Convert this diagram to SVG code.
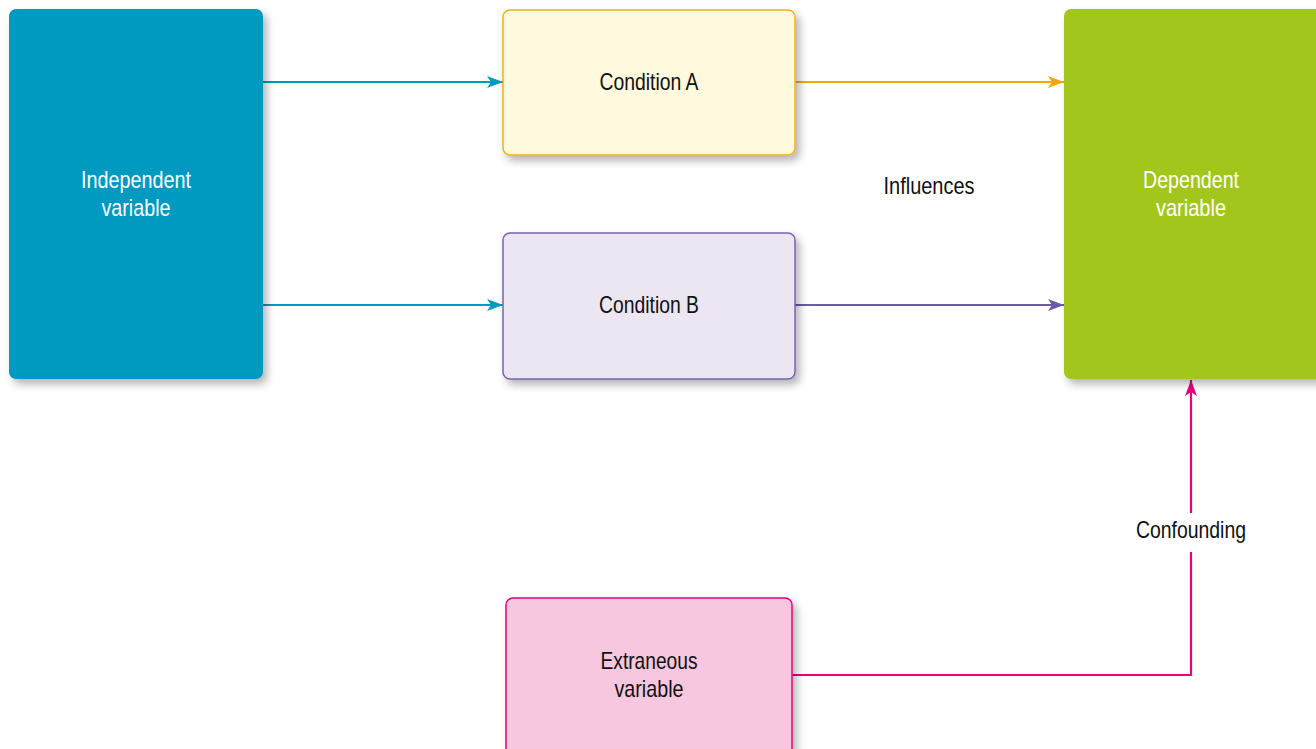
<svg xmlns="http://www.w3.org/2000/svg" width="1316" height="749" viewBox="0 0 1316 749">
  <style>
    text { font-family: "Liberation Sans", Arial, sans-serif; font-size: 24px; text-anchor: middle; dominant-baseline: central; }
    .light { fill: #ffffff; }
    .dark { fill: #111111; }
    .conn { fill: none; stroke-width: 2.2; }
  </style>
  <defs>
    <filter id="shadow" x="-10%" y="-10%" width="130%" height="130%">
      <feGaussianBlur in="SourceAlpha" stdDeviation="4"/>
      <feOffset dx="4" dy="5" result="blur"/>
      <feComponentTransfer><feFuncA type="linear" slope="0.3"/></feComponentTransfer>
      <feMerge><feMergeNode/><feMergeNode in="SourceGraphic"/></feMerge>
    </filter>
    <marker id="arrBlue" markerWidth="16" markerHeight="12" refX="16" refY="6" orient="auto" markerUnits="userSpaceOnUse">
      <path d="M0,0 L16,6 L0,12 L4,6 Z" fill="#0099BF"/>
    </marker>
    <marker id="arrOrange" markerWidth="16" markerHeight="12" refX="16" refY="6" orient="auto" markerUnits="userSpaceOnUse">
      <path d="M0,0 L16,6 L0,12 L4,6 Z" fill="#F5A800"/>
    </marker>
    <marker id="arrPurple" markerWidth="16" markerHeight="12" refX="16" refY="6" orient="auto" markerUnits="userSpaceOnUse">
      <path d="M0,0 L16,6 L0,12 L4,6 Z" fill="#6E58A8"/>
    </marker>
    <marker id="arrPink" markerWidth="16" markerHeight="12" refX="16" refY="6" orient="auto" markerUnits="userSpaceOnUse">
      <path d="M0,0 L16,6 L0,12 L4,6 Z" fill="#E5007D"/>
    </marker>
  </defs>

  <rect width="1316" height="749" fill="#ffffff"/>

  <!-- connectors -->
  <g id="connectors">
    <line class="conn" x1="263" y1="82" x2="503" y2="82" stroke="#0099BF" marker-end="url(#arrBlue)"/>
    <line class="conn" x1="263" y1="305" x2="503" y2="305" stroke="#0099BF" marker-end="url(#arrBlue)"/>
    <line class="conn" x1="795" y1="82" x2="1064" y2="82" stroke="#F5A800" marker-end="url(#arrOrange)"/>
    <line class="conn" x1="795" y1="305" x2="1064" y2="305" stroke="#6E58A8" marker-end="url(#arrPurple)"/>
    <polyline class="conn" points="792,675 1191,675 1191,552" stroke="#E5007D"/>
    <line class="conn" x1="1191" y1="513" x2="1191" y2="380" stroke="#E5007D" marker-end="url(#arrPink)"/>
    <text class="dark" x="929" y="185" textLength="91" lengthAdjust="spacingAndGlyphs">Influences</text>
    <text class="dark" x="1191" y="529" textLength="110" lengthAdjust="spacingAndGlyphs">Confounding</text>
  </g>

  <g id="independent">
    <rect x="9" y="9" width="254" height="370" rx="7" fill="#0099BF" filter="url(#shadow)"/>
    <text class="light" x="136" y="179" textLength="110" lengthAdjust="spacingAndGlyphs">Independent</text>
    <text class="light" x="136" y="207" textLength="69" lengthAdjust="spacingAndGlyphs">variable</text>
  </g>

  <g id="conditionA">
    <rect x="503" y="10" width="292" height="145" rx="7" fill="#FFF9DE" stroke="#F5AE1E" stroke-width="1.5" filter="url(#shadow)"/>
    <text class="dark" x="649" y="81" textLength="99" lengthAdjust="spacingAndGlyphs">Condition A</text>
  </g>

  <g id="conditionB">
    <rect x="503" y="233" width="292" height="146" rx="7" fill="#ECE6F2" stroke="#7A62AE" stroke-width="1.5" filter="url(#shadow)"/>
    <text class="dark" x="649" y="304" textLength="100" lengthAdjust="spacingAndGlyphs">Condition B</text>
  </g>

  <g id="dependent">
    <rect x="1064" y="9" width="262" height="370" rx="7" fill="#A3C61A" filter="url(#shadow)"/>
    <text class="light" x="1191" y="179" textLength="96" lengthAdjust="spacingAndGlyphs">Dependent</text>
    <text class="light" x="1191" y="207" textLength="70" lengthAdjust="spacingAndGlyphs">variable</text>
  </g>

  <g id="extraneous">
    <rect x="506" y="598" width="286" height="160" rx="7" fill="#F7C6DF" stroke="#E5007D" stroke-width="1.5" filter="url(#shadow)"/>
    <text class="dark" x="649" y="660" textLength="97" lengthAdjust="spacingAndGlyphs">Extraneous</text>
    <text class="dark" x="649" y="688" textLength="69" lengthAdjust="spacingAndGlyphs">variable</text>
  </g>
</svg>
